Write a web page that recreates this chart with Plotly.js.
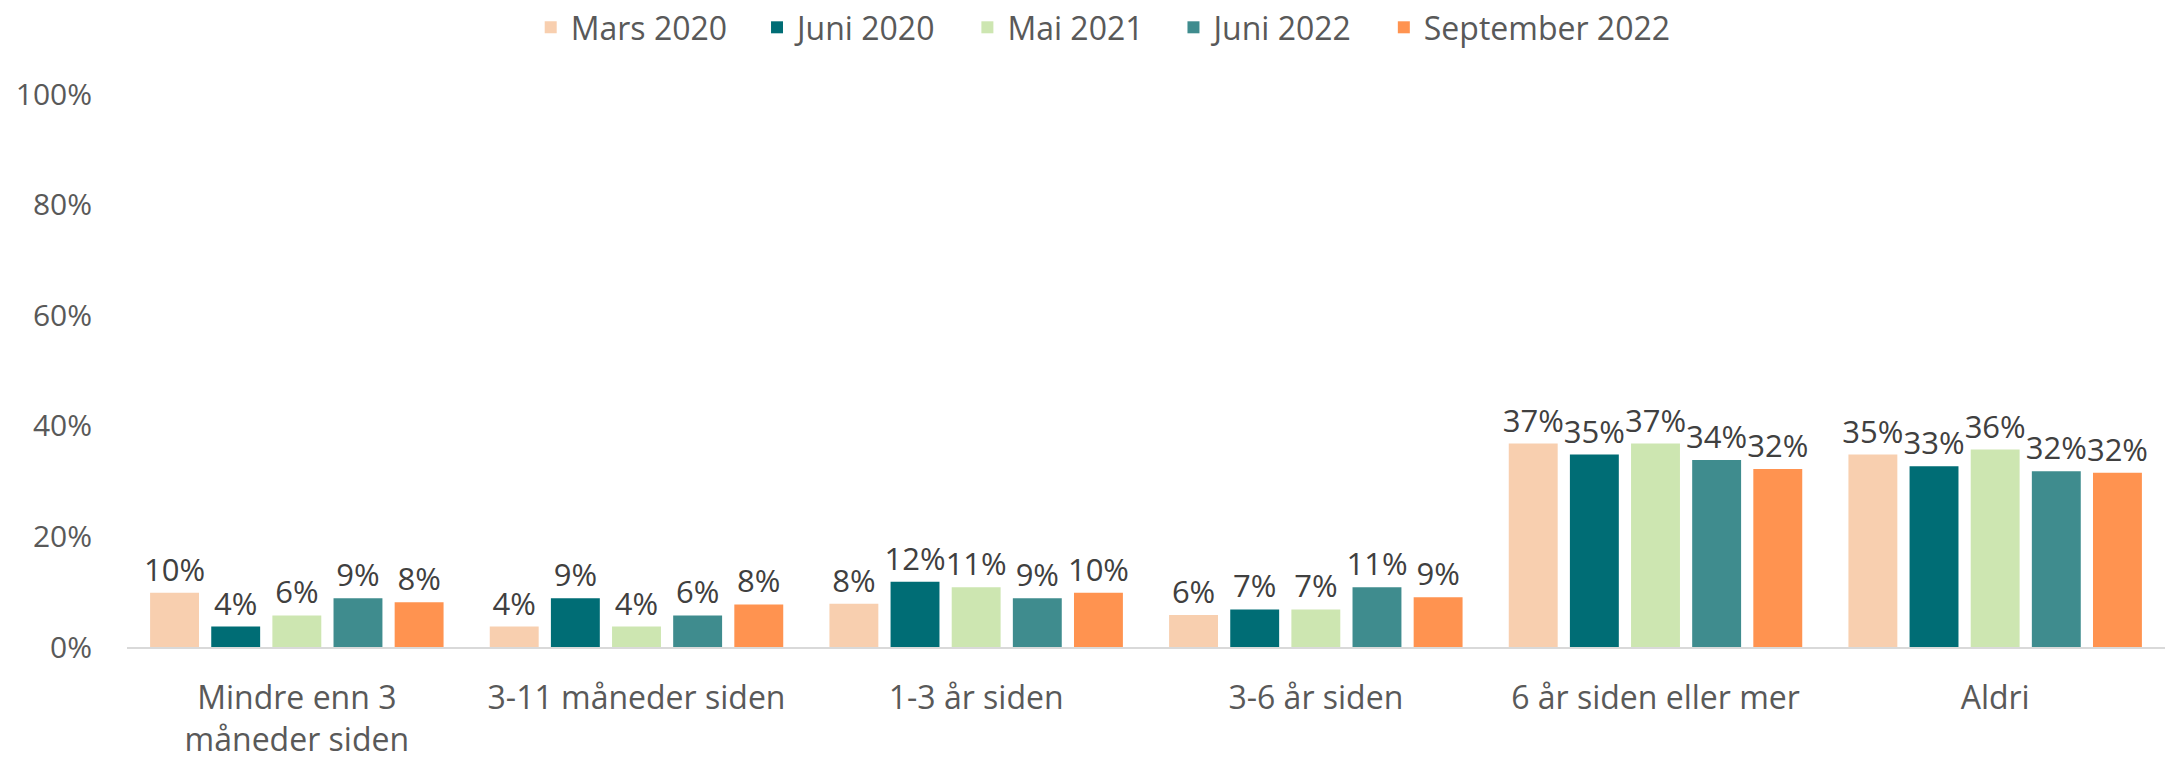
<!DOCTYPE html>
<html>
<head>
<meta charset="utf-8">
<script src="https://cdn.plot.ly/plotly-3.0.1.min.js"></script>
<style>html,body{margin:0;padding:0;background:#fff;}#chart{width:2173px;height:762px;}</style>
</head>
<body>
<div id="chart"></div>
<script>
const categories = ["Mindre enn 3<br>måneder siden", "3-11 måneder siden", "1-3 år siden", "3-6 år siden", "6 år siden eller mer", "Aldri"];
const seriesNames = ["Mars 2020", "Juni 2020", "Mai 2021", "Juni 2022", "September 2022"];
const mars2020 = [0.098, 0.037, 0.078, 0.058, 0.368, 0.348];
const juni2020 = [0.037, 0.088, 0.118, 0.068, 0.348, 0.327];
const mai2021  = [0.057, 0.037, 0.108, 0.068, 0.368, 0.357];
const juni2022 = [0.088, 0.057, 0.088, 0.108, 0.338, 0.318];
const sept2022 = [0.081, 0.077, 0.098, 0.090, 0.322, 0.315];
const seriesValues = [mars2020, juni2020, mai2021, juni2022, sept2022];
const colors = ["#F8CFAF", "#006D75", "#CDE6B1", "#3F8C8E", "#FF9350"];
const yTicks = [0, 0.2, 0.4, 0.6, 0.8, 1.0];

const FONT = "Open Sans, Noto Sans, sans-serif";
const PAD = "\u00a0\u00a0\u00a0";
const traces = seriesNames.map((name, i) => ({
  type: "bar",
  name: i < seriesNames.length - 1 ? name + PAD : name,
  x: categories,
  y: seriesValues[i],
  marker: {color: colors[i]},
  texttemplate: "%{y:.0%}",
  textposition: "outside",
  constraintext: "none",
  cliponaxis: false,
  textfont: {family: FONT, size: 31, color: "#404040"},
  hoverinfo: "skip"
}));

const layout = {
  width: 2173, height: 762,
  paper_bgcolor: "#fff", plot_bgcolor: "#fff",
  margin: {l: 127, r: 8, t: 94, b: 115},
  barmode: "group",
  bargap: 0.10,
  bargroupgap: 0.2,
  font: {family: FONT, color: "#595959", size: 31},
  showlegend: true,
  legend: {
    orientation: "h", x: 0.479, xanchor: "center", y: 1.0, yref: "container", yanchor: "top",
    font: {family: FONT, size: 32, color: "#595959"},
    itemwidth: 30, traceorder: "normal", itemclick: false
  },
  xaxis: {
    showgrid: false, zeroline: false,
    showline: true, linecolor: "#D9D9D9", linewidth: 2,
    ticks: "", tickfont: {family: FONT, size: 32, color: "#595959"},
    ticklabelstandoff: 22
  },
  yaxis: {
    range: [0, 1], tickvals: yTicks, tickformat: ".0%",
    showgrid: false, zeroline: false, showline: false,
    tickfont: {family: FONT, size: 30, color: "#595959"},
    ticklabelstandoff: 34
  }
};

Plotly.newPlot("chart", traces, layout, {displayModeBar: false, staticPlot: true});
</script>
</body>
</html>
